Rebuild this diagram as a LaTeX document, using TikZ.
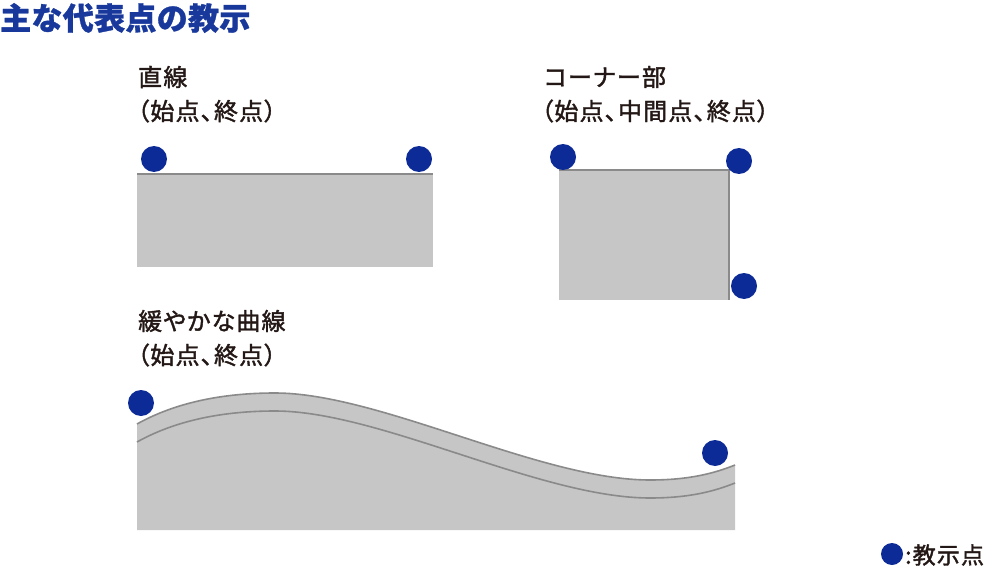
\documentclass[tikz,border=0pt]{standalone}
\usepackage{fontspec}
\setmainfont{Noto Sans CJK JP}
\newfontfamily\jplabel{Noto Sans CJK JP}[RawFeature=+palt, FakeBold=1.6, LetterSpace=5]
\newfontfamily\jptitle{Noto Sans CJK JP}[FakeBold=1, LetterSpace=1]
\definecolor{dotblue}{RGB}{13,43,150}
\definecolor{titleblue}{RGB}{24,56,156}
\definecolor{partgray}{RGB}{197,198,197}
\definecolor{edgegray}{RGB}{138,138,138}
\definecolor{txt}{RGB}{35,24,21}
\tikzset{
  lbl/.style={anchor=west, inner sep=0pt, text=txt, font=\jplabel\fontsize{24}{24}\selectfont},
  tpoint/.style={circle, fill=dotblue, inner sep=0pt, minimum size=26pt},
  part/.style={fill=partgray, draw=none},
  edge/.style={draw=edgegray, line width=1.6pt},
}
\begin{document}
\begin{tikzpicture}[x=1pt,y=-1pt]
\useasboundingbox (0,0) rectangle (988,567);
% title
\node[anchor=west, inner sep=0pt, text=titleblue, font=\jptitle\fontsize{31}{31}\selectfont\bfseries] (title) at (0,18) {主な代表点の教示};

% straight line
\node[lbl] (l1a) at (138,77) {直線};
\node[lbl] (l1b) at (137,111) {（始点、終点）};
\fill[part] (137,174) rectangle (433,267);
\coordinate (s1) at (137,174);
\coordinate (s2) at (433,174);
\draw[edge] (s1) -- (s2);
\node[tpoint] (p1) at (154,159) {};
\node[tpoint] (p2) at (419,159) {};

% corner
\node[lbl] (l2a) at (544,77) {コーナー部};
\node[lbl] (l2b) at (541,111) {（始点、中間点、終点）};
\fill[part] (559,170) rectangle (729,300);
\coordinate (c1) at (559,170);
\coordinate (c2) at (729,170);
\coordinate (c3) at (729,300);
\draw[edge] (c1) -- (c2) -- (c3);
\node[tpoint] (q1) at (563,157) {};
\node[tpoint] (q2) at (739,161) {};
\node[tpoint] (q3) at (744,286) {};

% gentle curve
\node[lbl] (l3a) at (138,321) {緩やかな曲線};
\node[lbl] (l3b) at (137,355) {（始点、終点）};
\fill[part] (137,424) .. controls (180,400) and (230,393) .. (275,393)
  .. controls (380,393) and (540,480) .. (650,480)
  .. controls (690,480) and (715,473) .. (735,465)
  -- (735,530) -- (137,530) -- cycle;
\draw[edge] (137,424) .. controls (180,400) and (230,393) .. (275,393)
  .. controls (380,393) and (540,480) .. (650,480)
  .. controls (690,480) and (715,473) .. (735,465);
\draw[edge] (137,442) .. controls (180,418) and (230,411) .. (275,411)
  .. controls (380,411) and (540,498) .. (650,498)
  .. controls (690,498) and (715,491) .. (735,483);
\node[tpoint] (r1) at (141,403) {};
\node[tpoint] (r2) at (715,453) {};

% legend
\node[tpoint, minimum size=22pt] (leg) at (892,554) {};
\node[lbl, font=\jplabel\fontsize{23}{23}\selectfont] (legt) at (905,555) {:教示点};
\end{tikzpicture}
\end{document}
